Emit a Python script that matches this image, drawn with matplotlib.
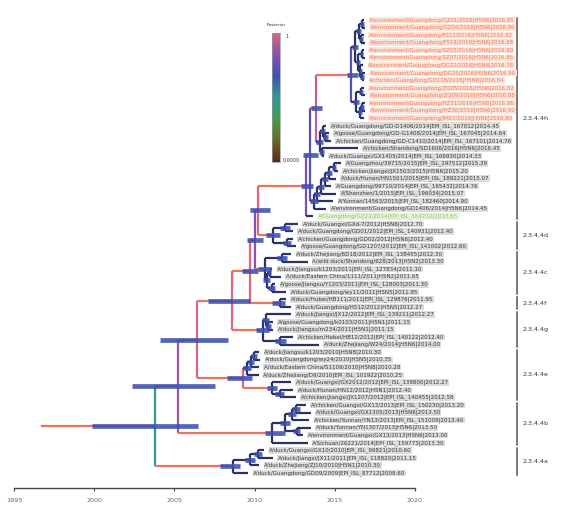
import matplotlib
matplotlib.use('Agg')
import matplotlib.pyplot as plt
import numpy as np
from matplotlib.colors import LinearSegmentedColormap

# ---------------- data ----------------
tip_labels = [
    "A/environment/Guangdong/GZ01/2016|H5N6|2016.85",
    "A/environment/Guangdong/GZ04/2016|H5N6|2016.90",
    "A/environment/Guangdong/FS12/2016|H5N6|2016.82",
    "A/environment/Guangdong/FS19/2016|H5N6|2016.88",
    "A/environment/Guangdong/SZ03/2016|H5N6|2016.80",
    "A/environment/Guangdong/SZ07/2016|H5N6|2016.86",
    "A/environment/Guangdong/DG22/2016|H5N6|2016.78",
    "A/environment/Guangdong/DG25/2016|H5N6|2016.90",
    "A/chicken/Guangdong/GD118/2016|H5N6|2016.84",
    "A/environment/Guangdong/ZQ05/2016|H5N6|2016.82",
    "A/environment/Guangdong/ZQ09/2016|H5N6|2016.88",
    "A/environment/Guangdong/HZ31/2016|H5N6|2016.86",
    "A/environment/Guangdong/HZ36/2016|H5N6|2016.90",
    "A/environment/Guangdong/JM02/2016|H5N6|2016.80",
    "A/duck/Guangdong/GD-D1406/2014|EPI_ISL_167012|2014.45",
    "A/goose/Guangdong/GD-G1408/2014|EPI_ISL_167045|2014.64",
    "A/chicken/Guangdong/GD-C1410/2014|EPI_ISL_167101|2014.76",
    "A/chicken/Shandong/SD1606/2016|H5N6|2016.45",
    "A/duck/Guangxi/GX1405/2014|EPI_ISL_166930|2014.33",
    "A/Guangzhou/39715/2015|EPI_ISL_197512|2015.39",
    "A/chicken/Jiangxi/JX1503/2015|H5N6|2015.20",
    "A/duck/Hunan/HN1501/2015|EPI_ISL_189221|2015.07",
    "A/Guangdong/99710/2014|EPI_ISL_165432|2014.76",
    "A/Shenzhen/1/2015|EPI_ISL_196034|2015.07",
    "A/Yunnan/14563/2015|EPI_ISL_182460|2014.90",
    "A/environment/Guangdong/GD1406/2014|H5N6|2014.45",
    "A/Guangdong/GZ22/2014|EPI_ISL_164212|2013.65",
    "A/duck/Guangxi/GXd-7/2012|H5N6|2012.70",
    "A/duck/Guangdong/GD01/2012|EPI_ISL_140931|2012.40",
    "A/chicken/Guangdong/GD02/2012|H5N6|2012.40",
    "A/goose/Guangdong/GD1207/2012|EPI_ISL_141002|2012.60",
    "A/duck/Zhejiang/6D18/2012|EPI_ISL_138455|2012.30",
    "A/wild duck/Shandong/628/2013|H5N2|2013.30",
    "A/duck/Jiangsu/k1203/2011|EPI_ISL_127834|2011.10",
    "A/duck/Eastern China/1111/2011|H5N2|2011.65",
    "A/goose/Jiangsu/Y1203/2011|EPI_ISL_128003|2011.30",
    "A/duck/Guangdong/wy11/2011|H5N5|2011.95",
    "A/duck/Hubei/HB111/2011|EPI_ISL_129876|2011.95",
    "A/duck/Guangdong/HS12/2012|H5N5|2012.27",
    "A/duck/Jiangxi/JX12/2012|EPI_ISL_139211|2012.27",
    "A/goose/Guangdong/k0103/2011|H5N1|2011.15",
    "A/duck/Jiangsu/m234/2011|H5N1|2011.15",
    "A/chicken/Hebei/HB12/2012|EPI_ISL_140122|2012.40",
    "A/duck/Zhejiang/W24/2014|H5N6|2014.00",
    "A/duck/Jiangsu/k1203/2010|H5N8|2010.30",
    "A/duck/Guangdong/wy24/2010|H5N5|2010.35",
    "A/duck/Eastern China/S1109/2010|H5N8|2010.28",
    "A/duck/Zhejiang/D9/2010|EPI_ISL_101922|2010.25",
    "A/duck/Guangxi/GX2012/2012|EPI_ISL_139800|2012.27",
    "A/duck/Hunan/HN12/2012|H5N1|2012.40",
    "A/chicken/Jiangxi/JX1207/2012|EPI_ISL_140455|2012.58",
    "A/chicken/Guangxi/GX13/2013|EPI_ISL_150230|2013.20",
    "A/duck/Guangxi/GX1305/2013|H5N6|2013.50",
    "A/chicken/Yunnan/YN13/2013|EPI_ISL_151009|2013.40",
    "A/duck/Yunnan/YN1307/2013|H5N6|2013.50",
    "A/environment/Guangxi/GX13/2013|H5N6|2013.00",
    "A/Sichuan/26221/2014|EPI_ISL_159773|2013.30",
    "A/duck/Guangxi/GX10/2010|EPI_ISL_99821|2010.60",
    "A/duck/Jiangxi/JX11/2011|EPI_ISL_118820|2011.15",
    "A/duck/Zhejiang/ZJ10/2010|H5N1|2010.30",
    "A/duck/Guangdong/GD09/2009|EPI_ISL_87712|2009.60",
]

tip_dates = [
    2016.85, 2016.90, 2016.82, 2016.88, 2016.80, 2016.86, 2016.78, 2016.90, 2016.84,
    2016.82, 2016.88, 2016.86, 2016.90, 2016.80,
    2014.45, 2014.64, 2014.76, 2016.45, 2014.33, 2015.39, 2015.20, 2015.07, 2014.76,
    2015.07, 2014.90, 2014.45, 2013.65,
    2012.70, 2012.40, 2012.40, 2012.60,
    2012.30, 2013.30, 2011.10, 2011.65, 2011.30, 2011.95,
    2011.95, 2012.27,
    2012.27, 2011.15, 2011.15, 2012.40, 2014.00,
    2010.30, 2010.35, 2010.28, 2010.25, 2012.27, 2012.40, 2012.58,
    2013.20, 2013.50, 2013.40, 2013.50, 2013.00, 2013.30,
    2010.60, 2011.15, 2010.30, 2009.60,
]

tip_group = ['orange'] * 14 + ['black'] * 12 + ['green'] + ['black'] * 34

# internal nodes: name, date, HPD low, HPD high, child 1, child 2
nodes = [
    ('o01', 2016.70, 2016.55, 2016.80, 0, 1),
    ('o23', 2016.66, 2016.52, 2016.78, 2, 3),
    ('u1', 2016.50, 2016.35, 2016.65, 'o01', 'o23'),
    ('o45', 2016.68, 2016.55, 2016.78, 4, 5),
    ('o78', 2016.72, 2016.60, 2016.82, 7, 8),
    ('o678', 2016.60, 2016.48, 2016.72, 6, 'o78'),
    ('u2', 2016.45, 2016.30, 2016.60, 'o45', 'o678'),
    ('up', 2016.26, 2016.05, 2016.45, 'u1', 'u2'),
    ('o910', 2016.64, 2016.50, 2016.76, 9, 10),
    ('o1112', 2016.70, 2016.58, 2016.80, 11, 12),
    ('o1113', 2016.58, 2016.45, 2016.70, 'o1112', 13),
    ('lo', 2016.32, 2016.12, 2016.50, 'o910', 'o1113'),
    ('O', 2016.01, 2015.76, 2016.45, 'up', 'lo'),
    ('m1516', 2014.40, 2014.25, 2014.55, 15, 16),
    ('m14', 2014.25, 2014.10, 2014.40, 14, 'm1516'),
    ('m1718', 2014.20, 2014.00, 2014.30, 17, 18),
    ('M', 2014.08, 2013.85, 2014.25, 'm14', 'm1718'),
    ('K', 2013.83, 2013.50, 2014.20, 'O', 'M'),
    ('l1', 2014.95, 2014.80, 2015.10, 19, 20),
    ('l2', 2014.64, 2014.45, 2014.85, 'l1', 21),
    ('l3', 2014.40, 2014.20, 2014.60, 'l2', 22),
    ('l4', 2014.14, 2013.95, 2014.35, 'l3', 23),
    ('l5', 2013.90, 2013.70, 2014.10, 'l4', 24),
    ('L', 2013.70, 2013.45, 2013.95, 'l5', 25),
    ('H1', 2013.45, 2013.02, 2013.95, 'K', 'L'),
    ('H', 2013.20, 2012.90, 2013.64, 'H1', 26),
    ('d1', 2011.90, 2011.60, 2012.20, 27, 28),
    ('d2', 2012.02, 2011.75, 2012.30, 29, 30),
    ('D', 2011.15, 2010.70, 2011.60, 'd1', 'd2'),
    ('Q', 2010.21, 2009.71, 2010.96, 'H', 'D'),
    ('c1', 2011.71, 2011.40, 2012.05, 31, 32),
    ('c2', 2010.96, 2010.75, 2011.05, 33, 34),
    ('c3', 2011.08, 2010.85, 2011.25, 35, 36),
    ('c4', 2010.77, 2010.55, 2010.95, 'c2', 'c3'),
    ('C', 2010.65, 2010.20, 2011.00, 'c1', 'c4'),
    ('P', 2010.02, 2009.53, 2010.52, 'Q', 'C'),
    ('F', 2011.58, 2011.10, 2011.90, 37, 38),
    ('X', 2009.71, 2009.20, 2010.20, 'P', 'F'),
    ('g1', 2010.84, 2010.65, 2011.05, 40, 41),
    ('g2', 2010.71, 2010.45, 2010.90, 39, 'g1'),
    ('g3', 2011.58, 2011.25, 2011.95, 42, 43),
    ('G', 2010.52, 2010.10, 2010.90, 'g2', 'g3'),
    ('N3', 2008.59, 2007.10, 2009.71, 'X', 'G'),
    ('e1', 2009.96, 2009.80, 2010.15, 44, 45),
    ('e2', 2009.78, 2009.60, 2009.98, 'e1', 46),
    ('e3', 2009.53, 2009.30, 2009.80, 'e2', 47),
    ('e4', 2011.58, 2011.30, 2011.85, 49, 50),
    ('e5', 2011.08, 2010.75, 2011.40, 48, 'e4'),
    ('E', 2009.28, 2008.28, 2009.84, 'e3', 'e5'),
    ('N2', 2006.41, 2004.10, 2008.34, 'N3', 'E'),
    ('b1', 2012.58, 2012.35, 2012.85, 51, 52),
    ('b2', 2012.33, 2012.10, 2012.60, 'b1', 53),
    ('b3', 2012.64, 2012.40, 2012.85, 54, 55),
    ('b4', 2011.90, 2011.60, 2012.20, 'b2', 'b3'),
    ('B', 2011.08, 2010.65, 2011.90, 'b4', 56),
    ('N1', 2005.22, 2002.36, 2007.53, 'N2', 'B'),
    ('a1', 2010.21, 2009.95, 2010.45, 57, 58),
    ('a2', 2009.71, 2009.40, 2010.00, 'a1', 59),
    ('A', 2008.65, 2007.84, 2009.09, 'a2', 60),
    ('R', 2003.79, 1999.86, 2006.47, 'N1', 'A'),
]
root_start = 1996.75

posterior = {'R': 0.50, 'N1': 0.88, 'N2': 1.0, 'N3': 1.0, 'X': 1.0, 'P': 0.84,
             'Q': 1.0, 'E': 1.0, 'H': 0.80, 'H1': 0.72, 'K': 0.95, 'O': 0.70}
salmon_children = ['N1', 'A', 'N2', 'B', 'N3', 'E', 'X', 'G', 'P', 'F', 'Q', 'C',
                   'H', 'D', 'e5', 'K', 'O', 'H1']

clade_names = ['2.3.4.4h', '2.3.4.4d', '2.3.4.4c', '2.3.4.4f', '2.3.4.4g',
               '2.3.4.4e', '2.3.4.4b', '2.3.4.4a']
clade_first = [0, 27, 31, 37, 39, 44, 51, 57]
clade_last = [26, 30, 36, 38, 43, 50, 56, 60]

year_ticks = [1995, 2000, 2005, 2010, 2015, 2020]

# ---------------- styles ----------------
W, H = 564, 512
SALMON = '#e8735f'
NAVY = '#2c3263'
HPD = '#3b4fb0'
cmap = LinearSegmentedColormap.from_list(
    'post', ['#5a2a18', '#6a6a28', '#3f9e48', '#2e9a9a', '#3c52b4', '#8a50b4', '#e0647c'])

fig = plt.figure(figsize=(W / 100, H / 100), dpi=100)
ax = fig.add_axes([0, 24 / H, 1, 488 / H])
ppy = 16.04
ax.set_xlim(1995 - 14 / ppy, 1995 + (W - 14) / ppy)
row = 7.55
ax.set_ylim((488 - 20) / row, -20 / row)

# positions
xpos = {i: d for i, d in enumerate(tip_dates)}
ypos = {i: float(i) for i in range(len(tip_dates))}
for name, d, lo, hi, c1, c2 in nodes:
    xpos[name] = d
    ypos[name] = (ypos[c1] + ypos[c2]) / 2.0

lw = 1.6
# branches
for name, d, lo, hi, c1, c2 in nodes:
    vcol = cmap(posterior[name]) if name in posterior else NAVY
    ax.plot([d, d], [ypos[c1], ypos[c2]], color=vcol, lw=lw,
            solid_capstyle='butt', zorder=2)
    for c in (c1, c2):
        col = SALMON if c in salmon_children else NAVY
        ax.plot([d, xpos[c]], [ypos[c], ypos[c]], color=col, lw=lw,
                solid_capstyle='butt', zorder=2)
# root stub
ax.plot([root_start, xpos['R']], [ypos['R'], ypos['R']], color=SALMON, lw=lw, zorder=2)

# HPD bars
for name, d, lo, hi, c1, c2 in nodes:
    ax.plot([lo, hi], [ypos[name], ypos[name]], color=HPD, lw=3.4, alpha=0.88,
            solid_capstyle='butt', zorder=3)

# tip labels
for i, lab in enumerate(tip_labels):
    g = tip_group[i]
    if g == 'orange':
        tc, bc = '#f07a55', '#fde3d8'
    elif g == 'green':
        tc, bc = '#8cc864', '#e4f4da'
    else:
        tc, bc = '#3a3a3a', '#dcdcdc'
    fs = 3.9 if g == 'orange' else 4.0
    ax.text(tip_dates[i] + 0.3, i, lab, fontsize=fs, color=tc, va='center', ha='left',
            bbox=dict(boxstyle='square,pad=0.08', fc=bc, ec='none'), zorder=4)

# clade bars
bar_x = 1995 + (517 - 14) / ppy
txt_x = 1995 + (523 - 14) / ppy
for nm, f, l in zip(clade_names, clade_first, clade_last):
    ax.plot([bar_x, bar_x], [f - 0.3, l + 0.3], color='#555555', lw=1.1)
    ax.text(txt_x, (f + l) / 2, nm, fontsize=4.6, color='#333333', va='center', ha='left')

# axis
for s in ['top', 'left', 'right']:
    ax.spines[s].set_visible(False)
ax.spines['bottom'].set_bounds(year_ticks[0], year_ticks[-1])
ax.spines['bottom'].set_color('#444444')
ax.spines['bottom'].set_linewidth(1.0)
ax.set_yticks([])
ax.set_xticks(year_ticks)
ax.set_xticklabels([str(t) for t in year_ticks], fontsize=4.6, color='#666666')
ax.tick_params(axis='x', length=2.5, width=0.8, color='#444444', pad=5)

# legend colour bar
cax = fig.add_axes([272 / W, 1 - 162 / H, 8 / W, 129 / H])
grad = np.linspace(1, 0, 256).reshape(-1, 1)
cax.imshow(grad, aspect='auto', cmap=cmap, extent=[0, 1, 0, 1])
cax.set_xticks([])
cax.set_yticks([])
for s in cax.spines.values():
    s.set_color('#999999')
    s.set_linewidth(0.5)
fig.text(276 / W, 1 - 25 / H, 'Posterior', fontsize=3.2, ha='center', va='center', color='#333333')
fig.text(285 / W, 1 - 36 / H, '1', fontsize=3.5, ha='left', va='center', color='#333333')
fig.text(283 / W, 1 - 160 / H, '0.0000', fontsize=3.5, ha='left', va='center', color='#333333')

fig.savefig('out.png', dpi=100)
